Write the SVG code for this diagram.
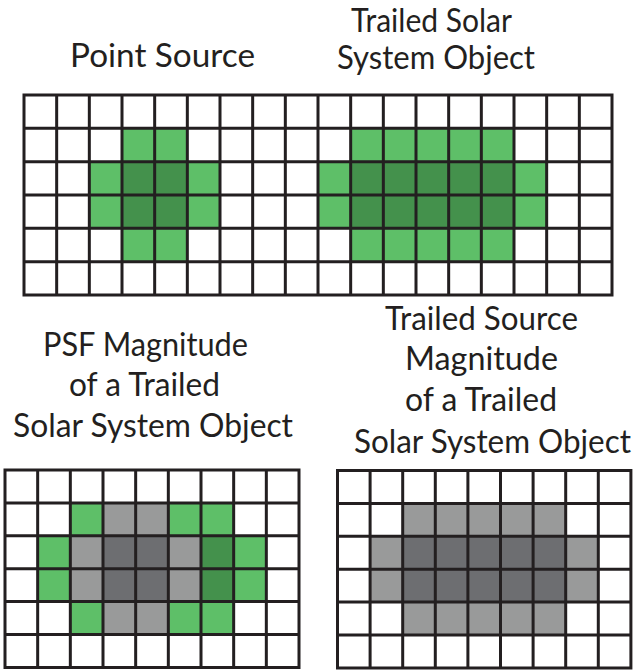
<svg xmlns="http://www.w3.org/2000/svg" width="639" height="671" viewBox="0 0 639 671">
  <style>
    .lbl { font-family: Lato, "Open Sans", "Liberation Sans", sans-serif; font-size: 32px; fill: #231f20; }
    .lg { fill: #5ebf68; }
    .dg { fill: #44914c; }
    .lgr { fill: #999a9a; }
    .dgr { fill: #6d6e71; }
    .grid { fill: none; stroke: #231f20; stroke-width: 3; stroke-linecap: square; }
  </style>

  <!-- Labels -->
  <g id="label-point-source">
    <text class="lbl" x="70" y="67" textLength="185" lengthAdjust="spacingAndGlyphs">Point Source</text>
  </g>
  <g id="label-trailed-sso">
    <text class="lbl" x="351" y="32" textLength="161" lengthAdjust="spacingAndGlyphs">Trailed Solar</text>
    <text class="lbl" x="337" y="69" textLength="198" lengthAdjust="spacingAndGlyphs">System Object</text>
  </g>
  <g id="label-psf-magnitude">
    <text class="lbl" x="43" y="356" textLength="205" lengthAdjust="spacingAndGlyphs">PSF Magnitude</text>
    <text class="lbl" x="69" y="396" textLength="151" lengthAdjust="spacingAndGlyphs">of a Trailed</text>
    <text class="lbl" x="13" y="437" textLength="280" lengthAdjust="spacingAndGlyphs">Solar System Object</text>
  </g>
  <g id="label-trailed-source-magnitude">
    <text class="lbl" x="385" y="330" textLength="193" lengthAdjust="spacingAndGlyphs">Trailed Source</text>
    <text class="lbl" x="405" y="370" textLength="153" lengthAdjust="spacingAndGlyphs">Magnitude</text>
    <text class="lbl" x="405" y="411" textLength="152" lengthAdjust="spacingAndGlyphs">of a Trailed</text>
    <text class="lbl" x="354" y="453" textLength="277" lengthAdjust="spacingAndGlyphs">Solar System Object</text>
  </g>

  <!-- Top image: point source (left) and trailed object (right), 18 x 6 pixels -->
  <g id="grid-top">
    <rect x="24" y="95" width="588" height="200" fill="#ffffff"/>
    <g transform="translate(24 95) scale(32.667 33.333)">
      <!-- point source -->
      <rect class="lg" x="3" y="1" width="2" height="1"/>
      <rect class="lg" x="2" y="2" width="1" height="2"/>
      <rect class="dg" x="3" y="2" width="2" height="2"/>
      <rect class="lg" x="5" y="2" width="1" height="2"/>
      <rect class="lg" x="3" y="4" width="2" height="1"/>
      <!-- trailed object -->
      <rect class="lg" x="10" y="1" width="5" height="1"/>
      <rect class="lg" x="9" y="2" width="1" height="2"/>
      <rect class="dg" x="10" y="2" width="5" height="2"/>
      <rect class="lg" x="15" y="2" width="1" height="2"/>
      <rect class="lg" x="10" y="4" width="5" height="1"/>
    </g>
    <path class="grid" d="M24 95H612V295H24Z
      M56.67 95V295 M89.33 95V295 M122 95V295 M154.67 95V295 M187.33 95V295 M220 95V295
      M252.67 95V295 M285.33 95V295 M318 95V295 M350.67 95V295 M383.33 95V295 M416 95V295
      M448.67 95V295 M481.33 95V295 M514 95V295 M546.67 95V295 M579.33 95V295
      M24 128.33H612 M24 161.67H612 M24 195H612 M24 228.33H612 M24 261.67H612"/>
  </g>

  <!-- Bottom left: PSF fit of a trailed object, 9 x 6 pixels -->
  <g id="grid-psf">
    <rect x="5" y="470" width="294" height="197.4" fill="#ffffff"/>
    <g transform="translate(5 470) scale(32.667 32.9)">
      <rect class="lg" x="2" y="1" width="1" height="1"/>
      <rect class="lgr" x="3" y="1" width="2" height="1"/>
      <rect class="lg" x="5" y="1" width="2" height="1"/>
      <rect class="lg" x="1" y="2" width="1" height="2"/>
      <rect class="lgr" x="2" y="2" width="1" height="2"/>
      <rect class="dgr" x="3" y="2" width="2" height="2"/>
      <rect class="lgr" x="5" y="2" width="1" height="2"/>
      <rect class="dg" x="6" y="2" width="1" height="2"/>
      <rect class="lg" x="7" y="2" width="1" height="2"/>
      <rect class="lg" x="2" y="4" width="1" height="1"/>
      <rect class="lgr" x="3" y="4" width="2" height="1"/>
      <rect class="lg" x="5" y="4" width="2" height="1"/>
    </g>
    <path class="grid" d="M5 470H299V667.4H5Z
      M37.67 470V667.4 M70.33 470V667.4 M103 470V667.4 M135.67 470V667.4
      M168.33 470V667.4 M201 470V667.4 M233.67 470V667.4 M266.33 470V667.4
      M5 502.9H299 M5 535.8H299 M5 568.7H299 M5 601.6H299 M5 634.5H299"/>
  </g>

  <!-- Bottom right: trailed source fit, 9 x 6 pixels -->
  <g id="grid-trailed">
    <rect x="337.5" y="470.5" width="293.4" height="197.4" fill="#ffffff"/>
    <g transform="translate(337.5 470.5) scale(32.6 32.9)">
      <rect class="lgr" x="2" y="1" width="5" height="1"/>
      <rect class="lgr" x="1" y="2" width="1" height="2"/>
      <rect class="dgr" x="2" y="2" width="5" height="2"/>
      <rect class="lgr" x="7" y="2" width="1" height="2"/>
      <rect class="lgr" x="2" y="4" width="5" height="1"/>
    </g>
    <path class="grid" d="M337.5 470.5H630.9V667.9H337.5Z
      M370.1 470.5V667.9 M402.7 470.5V667.9 M435.3 470.5V667.9 M467.9 470.5V667.9
      M500.5 470.5V667.9 M533.1 470.5V667.9 M565.7 470.5V667.9 M598.3 470.5V667.9
      M337.5 503.4H630.9 M337.5 536.3H630.9 M337.5 569.2H630.9 M337.5 602.1H630.9 M337.5 635H630.9"/>
  </g>
</svg>
